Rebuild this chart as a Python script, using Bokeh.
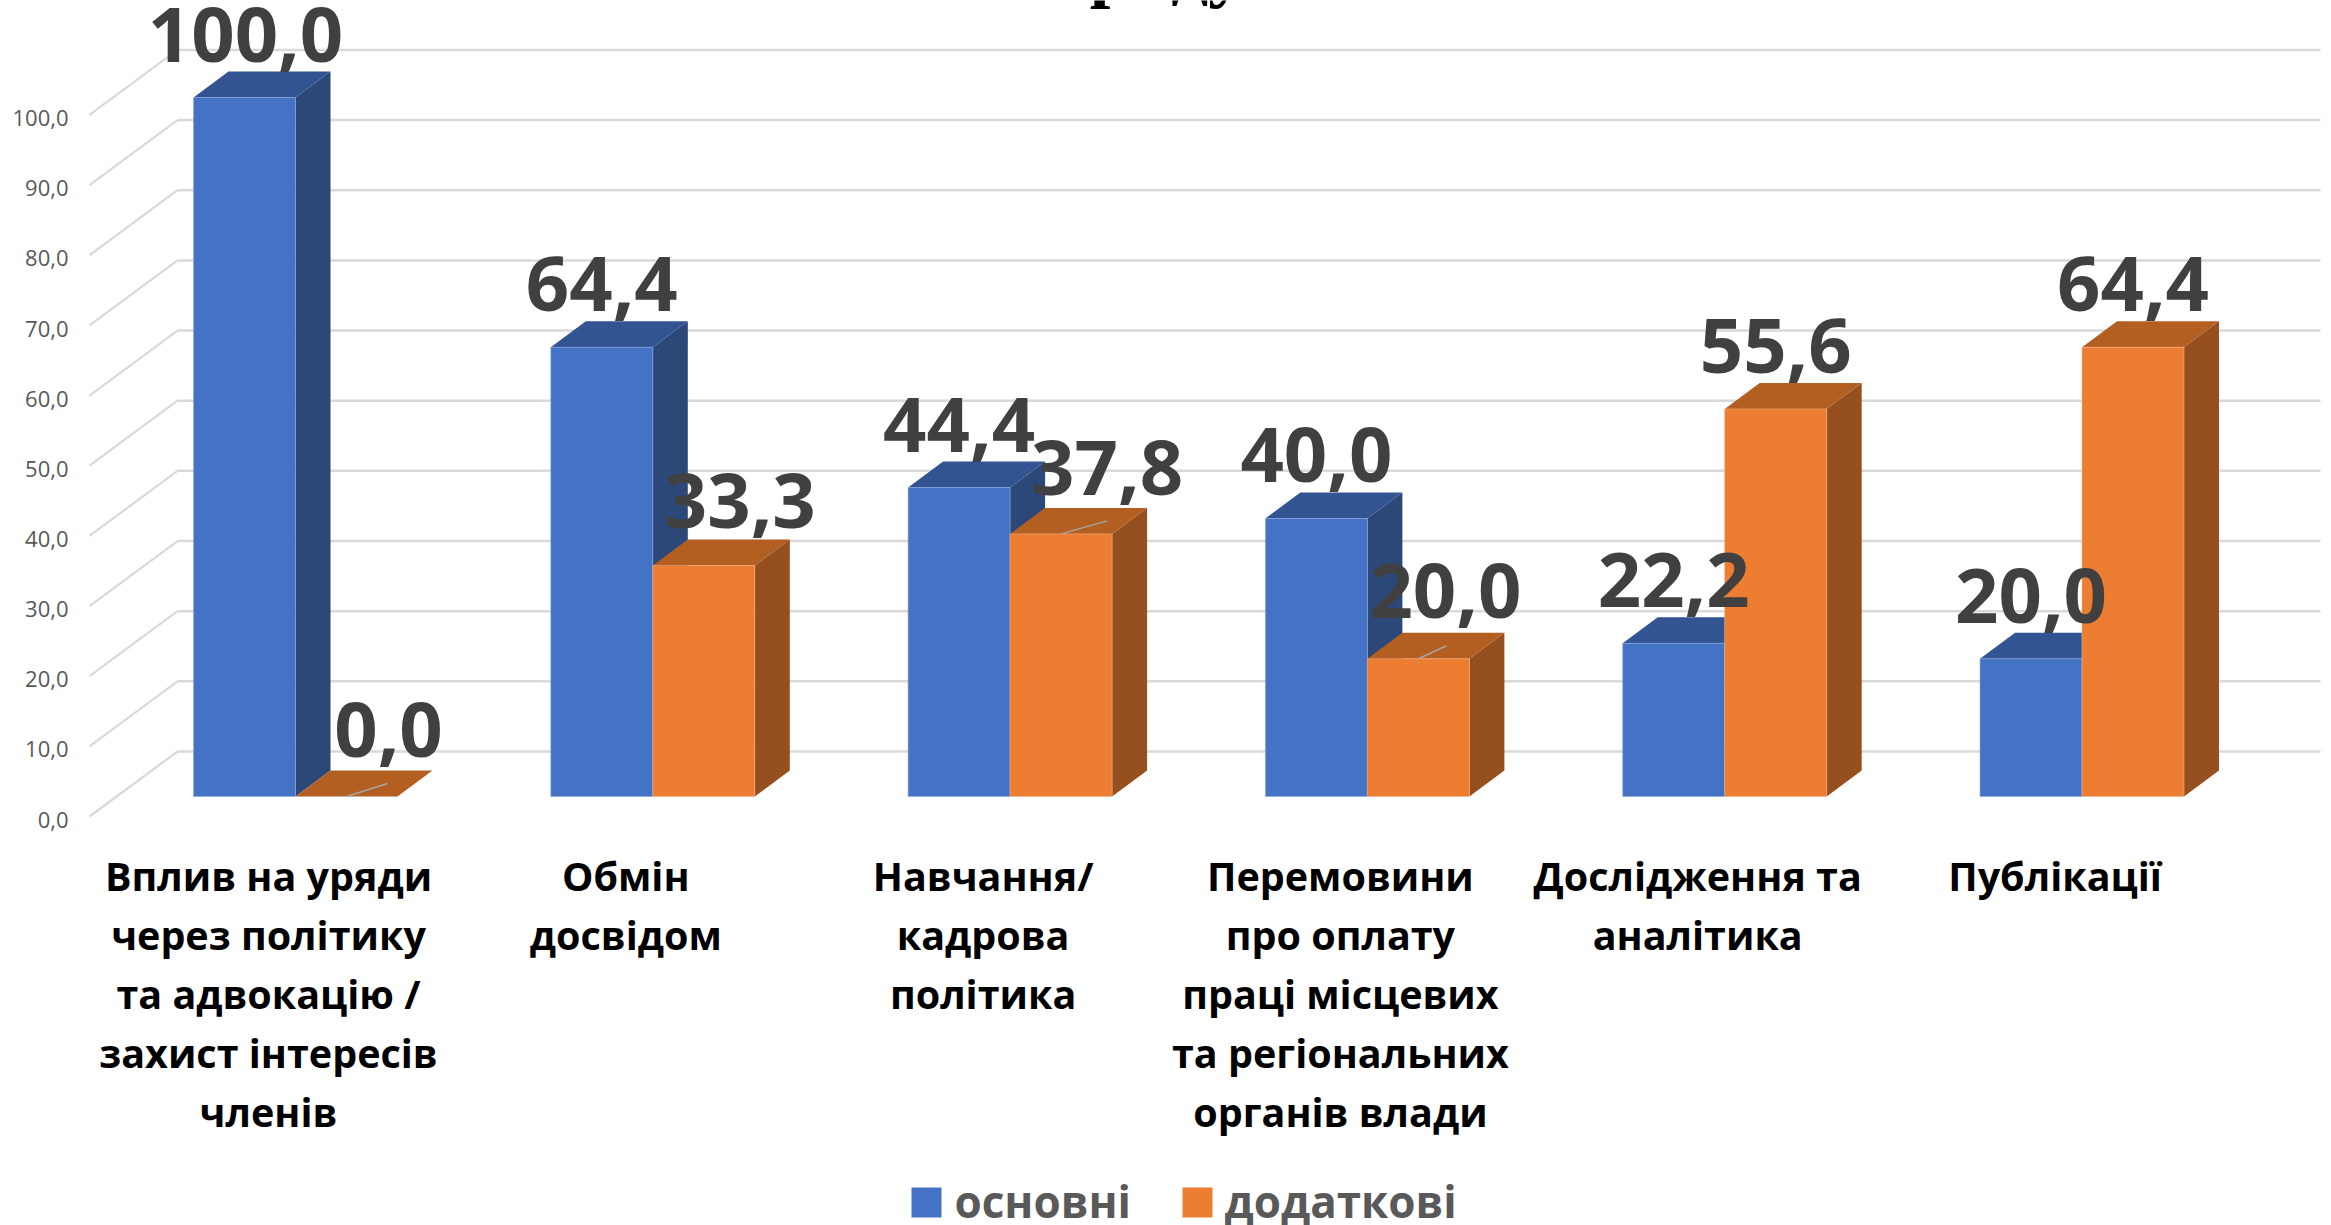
from bokeh.plotting import figure
from bokeh.models import Range1d
from bokeh.core.properties import value
from bokeh.embed import file_html
from bokeh.resources import INLINE

categories = [
    ["Вплив на уряди", "через політику", "та адвокацію /", "захист інтересів", "членів"],
    ["Обмін", "досвідом"],
    ["Навчання/", "кадрова", "політика"],
    ["Перемовини", "про оплату", "праці місцевих", "та регіональних", "органів влади"],
    ["Дослідження та", "аналітика"],
    ["Публікації"],
]
osnovni = [100.0, 64.4, 44.4, 40.0, 22.2, 20.0]
dodatkovi = [0.0, 33.3, 37.8, 20.0, 55.6, 64.4]
y_ticks = [0, 10, 20, 30, 40, 50, 60, 70, 80, 90, 100]
series_names = ["основні", "додаткові"]
title_fragment = "ряду"

# layout (page pixels horizontally; value units vertically)
W, H = 2331, 1225
PX = 7.016
Y0 = 798.6
def v(py):  # page y to value units
    return (Y0 - py) / PX
X0, PITCH, BW = 193, 357.3, 102
DX, DY = 35, 26 / PX
BASE = v(796)
FONT = value("Open Sans")

p = figure(width=W, height=H, output_backend="svg", toolbar_location=None,
           x_range=Range1d(0, W), y_range=Range1d(v(H), v(0)),
           min_border=0, outline_line_color=None, background_fill_color="white")
p.axis.visible = False
p.grid.visible = False

# walls
GRID = "#d9d9d9"
back_dy = 47.6 / PX
front_dy = -17.4 / PX
p.segment(x0=[177] * 11, x1=[2320] * 11, y0=[t + back_dy for t in y_ticks], y1=[t + back_dy for t in y_ticks],
          line_color=GRID, line_width=2.5)
p.segment(x0=[89] * 11, x1=[177] * 11, y0=[t + front_dy for t in y_ticks], y1=[t + back_dy for t in y_ticks],
          line_color=GRID, line_width=2.2)
p.text(x=[68] * 11, y=[t + front_dy - 0.45 for t in y_ticks], text=[f"{t},0" for t in y_ticks],
       text_font=FONT, text_font_size="22px", text_color="#595959", text_align="right", text_baseline="middle")


def bar(x, val, front, side, top, edge):
    h = max(val, BASE)
    p.patch([x + BW, x + BW + DX, x + BW + DX, x + BW], [BASE, BASE + DY, h + DY, h], fill_color=side, line_color=None)
    p.patch([x, x + DX, x + BW + DX, x + BW], [h, h + DY, h + DY, h], fill_color=top, line_color=None)
    if val > 0:
        p.quad(left=x, right=x + BW, bottom=BASE, top=h, fill_color=front, line_color=edge, line_width=1, line_alpha=0.6)


BLUE = ("#4472C4", "#2B4879", "#325492", "#8FAADC")
ORANGE = ("#ED7D31", "#96501F", "#B45F22", "#F4B183")
for i in range(6):
    x = X0 + PITCH * i
    bar(x, osnovni[i], *BLUE)
for i in range(6):
    x = X0 + PITCH * i + BW
    bar(x, dodatkovi[i], *ORANGE)

# leader lines of the moved labels
nudge_orange = {0: 42, 1: 36, 2: 46, 3: 27}
lift_orange = {0: 4, 1: 1, 2: 3, 3: 5}
for i, d in [(0, 41), (2, 46), (3, 28)]:
    cx = X0 + PITCH * i + 1.5 * BW
    h = max(dodatkovi[i], BASE)
    p.line([cx, cx + d], [h, h + 13 / PX], line_color="#a6a6a6", line_width=1.5)

# value labels
LBL = dict(text_font=FONT, text_font_style="bold", text_font_size="76px", text_color="#404040",
           text_align="center", text_baseline="middle")
lift = 63 / PX
p.text(x=[X0 + PITCH * i + BW / 2 + (1 if i == 0 else 0) for i in range(6)],
       y=[val + lift for val in osnovni],
       text=[f"{val:.1f}".replace(".", ",") for val in osnovni], **LBL)
p.text(x=[X0 + PITCH * i + 1.5 * BW + nudge_orange.get(i, 0) for i in range(6)],
       y=[max(val, BASE) + lift + lift_orange.get(i, 0) / PX for i, val in enumerate(dodatkovi)],
       text=[f"{val:.1f}".replace(".", ",") for val in dodatkovi], **LBL)

# category labels
xs, ys, ts = [], [], []
for i, lines in enumerate(categories):
    for j, line in enumerate(lines):
        xs.append(268 + PITCH * i)
        ys.append(v(875.5 + 59 * j))
        ts.append(line)
p.text(x=xs, y=ys, text=ts, text_font=FONT, text_font_style="bold", text_font_size="39.5px",
       text_color="#000000", text_align="center", text_baseline="middle")

# legend
p.quad(left=[911, 1182], right=[941, 1212], bottom=[v(1217)] * 2, top=[v(1187)] * 2,
       fill_color=["#4472C4", "#ED7D31"], line_color=None)
p.text(x=[954, 1224], y=[v(1200.5)] * 2, text=series_names, text_font=FONT, text_font_style="bold",
       text_font_size="44px", text_color="#595959", text_align="left", text_baseline="middle")

# title, cut off by the top edge in the reference
p.text(x=[1167], y=[v(-33)], text=[title_fragment], text_font=value("Liberation Serif"), text_font_style="bold",
       text_font_size="74px", text_color="#000000", text_align="center", text_baseline="middle")

open("out.html", "w").write(file_html(p, INLINE))
